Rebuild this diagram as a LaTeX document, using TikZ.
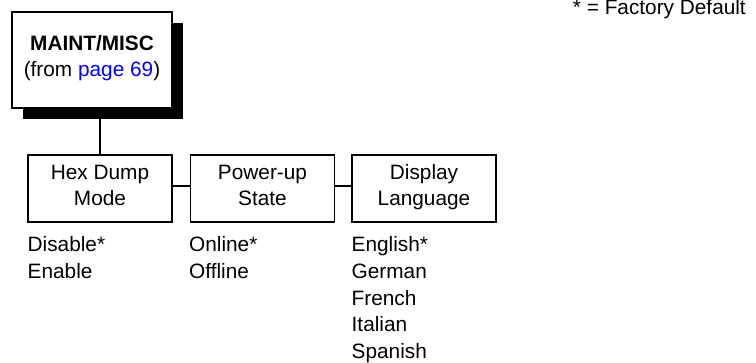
\documentclass[tikz,border=0pt]{standalone}
\usepackage{fontspec}
\setmainfont{Liberation Sans}
\begin{document}
\begin{tikzpicture}[x=1pt,y=-1pt,
  box/.style={draw, line width=1.4pt, fill=white, inner sep=0pt, minimum width=144pt, minimum height=67pt},
  shadowbox/.style={fill=black, inner sep=0pt, minimum width=160pt, minimum height=96pt},
  mainbox/.style={draw, line width=1.4pt, fill=white, inner sep=0pt, minimum width=160pt, minimum height=96pt},
  txt/.style={font=\fontsize{20.8}{26.6}\selectfont, inner sep=0pt, align=center},
  lst/.style={font=\fontsize{20.8}{26.6}\selectfont, inner sep=0pt, align=left},
  conn/.style={line width=1.4pt}]
\useasboundingbox (0,0) rectangle (756,363);
% top node with shadow
\node[shadowbox] (maintshadow) at (103,71) {};
\node[mainbox] (maint) at (92,60) {};
\node[txt, anchor=base] (mainttext) at (92,77) {\textbf{MAINT/MISC}\\(from \textcolor{blue}{page 69})};
% submenu boxes
\node[box] (hex) at (100,188.5) {};
\node[box] (power) at (262.5,188.5) {};
\node[box] (display) at (424,188.5) {};
\node[txt, anchor=base] (hextext) at (100,206) {Hex Dump\\Mode};
\node[txt, anchor=base] (powertext) at (262.5,206) {Power-up\\State};
\node[txt, anchor=base] (displaytext) at (424,206) {Display\\Language};
% connectors
\draw[conn] (hex.north) -- (hex.north |- maintshadow.south);
\draw[conn] ([yshift=2.5pt]hex.east) -- ([yshift=2.5pt]power.west);
\draw[conn] ([yshift=2.5pt]power.east) -- ([yshift=2.5pt]display.west);
% option lists
\node[lst, anchor=base west] (hexopts) at (27.5,278.6) {Disable*\\Enable};
\node[lst, anchor=base west] (poweropts) at (189,278.6) {Online*\\Offline};
\node[lst, anchor=base west] (displayopts) at (351.5,358.4) {English*\\German\\French\\Italian\\Spanish};
% legend
\node[txt, anchor=base east] (legend) at (746,15) {* = Factory Default};
\end{tikzpicture}
\end{document}
